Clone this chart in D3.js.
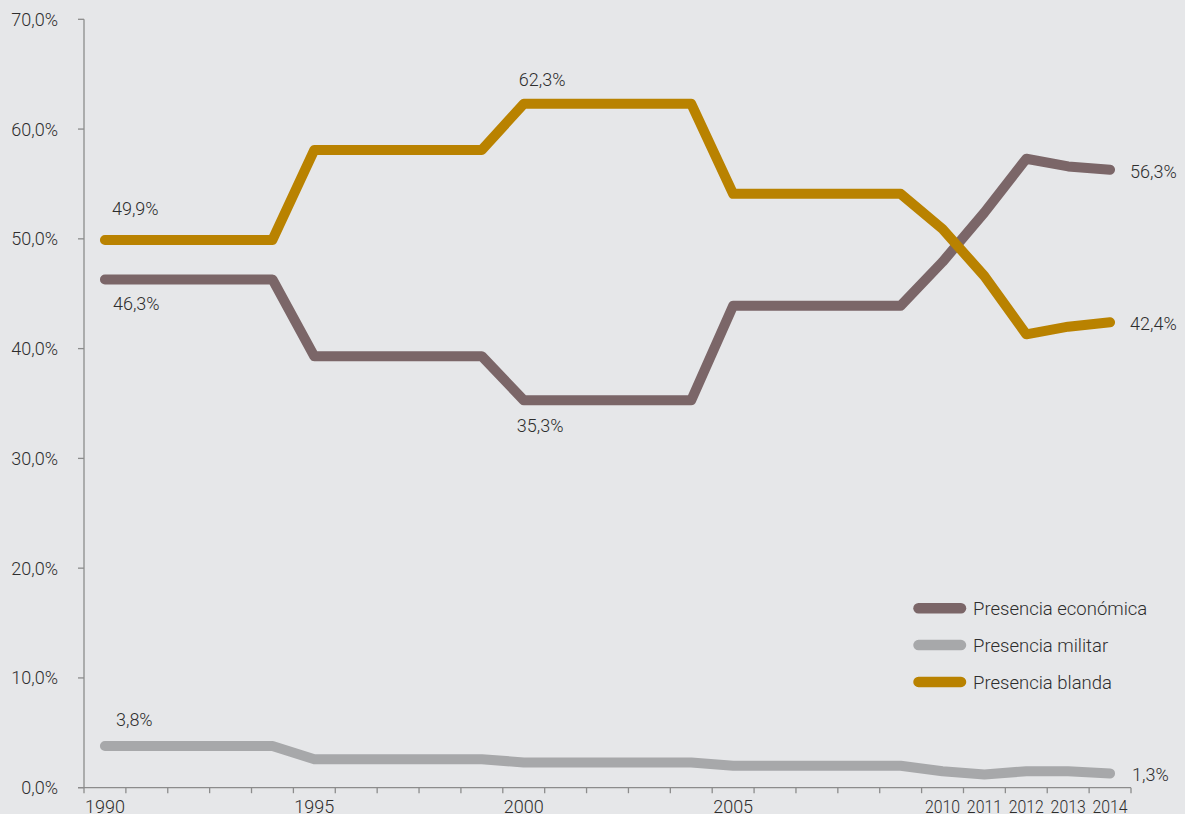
<!DOCTYPE html>
<html>
<head>
<meta charset="utf-8">
<script src="https://cdn.jsdelivr.net/npm/d3@7"></script>
<style>
  html, body { margin: 0; padding: 0; background: #e6e7e9; }
  svg { display: block; }
  text { font-family: Roboto, "Noto Sans", sans-serif; font-weight: 300; fill: #2e2e2e; }
</style>
</head>
<body>
<svg id="chart" width="1185" height="814"></svg>
<script>
// ---- data ----
const years = d3.range(1990, 2015);
const tickLabels = ["1990","","","","","1995","","","","","2000","","","","","2005","","","","","2010","2011","2012","2013","2014"];
const seriesNames = ["Presencia económica", "Presencia militar", "Presencia blanda"];
const economica = [46.3,46.3,46.3,46.3,46.3, 39.3,39.3,39.3,39.3,39.3, 35.3,35.3,35.3,35.3,35.3, 43.9,43.9,43.9,43.9,43.9, 47.9,52.4,57.3,56.6,56.3];
const militar   = [3.8,3.8,3.8,3.8,3.8, 2.6,2.6,2.6,2.6,2.6, 2.3,2.3,2.3,2.3,2.3, 2.0,2.0,2.0,2.0,2.0, 1.5,1.2,1.5,1.5,1.3];
const blanda    = [49.9,49.9,49.9,49.9,49.9, 58.1,58.1,58.1,58.1,58.1, 62.3,62.3,62.3,62.3,62.3, 54.1,54.1,54.1,54.1,54.1, 50.9,46.6,41.3,42.0,42.4];
const yTicks = [0,10,20,30,40,50,60,70];
// labelled points: [series index, year]
const labelPoints = [[2,1990],[0,1990],[2,2000],[0,2000],[1,1990],[0,2014],[2,2014],[1,2014]];

const colors = ["#7b6668", "#a7a8aa", "#b98200"];
const seriesValues = [economica, militar, blanda];

// ---- layout ----
(function () {
const svg = d3.select("#chart");
const mLeft = 84, mRight = 1131, mTop = 19.3, mBottom = 787.7;
const x = d3.scaleBand().domain(years).range([mLeft, mRight]).padding(0);
const y = d3.scaleLinear().domain([0, 70]).range([mBottom, mTop]);
const cx = yr => x(yr) + x.bandwidth() / 2;
const fmt = v => d3.format(".1f")(v).replace(".", ",") + "%";
const axisColor = "#8c8c8c";

// y axis
const yAxis = svg.append("g");
yAxis.append("line").attr("x1", mLeft).attr("x2", mLeft).attr("y1", y(70)).attr("y2", y(0))
  .attr("stroke", axisColor).attr("stroke-width", 1.3);
yAxis.selectAll("line.tk").data(yTicks).join("line").attr("class", "tk")
  .attr("x1", mLeft - 6).attr("x2", mLeft).attr("y1", d => y(d)).attr("y2", d => y(d))
  .attr("stroke", axisColor).attr("stroke-width", 1.3);
yAxis.selectAll("text").data(yTicks).join("text")
  .attr("x", 58).attr("y", d => y(d) + 6.5).attr("text-anchor", "end")
  .attr("font-size", 18).text(d => d3.format(".1f")(d).replace(".", ",") + "%");

// x axis
const xAxis = svg.append("g");
xAxis.append("line").attr("x1", mLeft - 6).attr("x2", mRight).attr("y1", mBottom).attr("y2", mBottom)
  .attr("stroke", axisColor).attr("stroke-width", 1.3);
const bounds = years.map(yr => x(yr)).concat([mRight]);
xAxis.selectAll("line.tk").data(bounds).join("line").attr("class", "tk")
  .attr("x1", d => d).attr("x2", d => d).attr("y1", mBottom).attr("y2", mBottom + 5.5)
  .attr("stroke", axisColor).attr("stroke-width", 1.3);
// labels crowded by a labelled neighbour are horizontally condensed
const crowded = i => (i > 0 && tickLabels[i - 1] !== "") || (i < tickLabels.length - 1 && tickLabels[i + 1] !== "");
xAxis.selectAll("text").data(years).join("text")
  .attr("x", 0).attr("y", 0).attr("text-anchor", "middle")
  .attr("transform", (d, i) => `translate(${cx(d)},812.5) scale(${crowded(i) ? 0.88 : 1},1)`)
  .attr("font-size", 18).text((d, i) => tickLabels[i]);

// lines
const line = d3.line().x((d, i) => cx(years[i])).y(d => y(d));
[1, 0, 2].forEach(s => {
  svg.append("path").datum(seriesValues[s]).attr("d", line)
    .attr("fill", "none").attr("stroke", colors[s]).attr("stroke-width", 10)
    .attr("stroke-linecap", "round").attr("stroke-linejoin", "round");
});

// data labels
const offsets = {
  "2-1990": [7, -25], "0-1990": [8, 31], "2-2000": [-5, -18], "0-2000": [-7, 32],
  "1-1990": [11, -20], "0-2014": [20, 8], "2-2014": [20, 8], "1-2014": [22, 8]
};
labelPoints.forEach(([s, yr]) => {
  const v = seriesValues[s][years.indexOf(yr)];
  const o = offsets[s + "-" + yr];
  svg.append("text").attr("x", cx(yr) + o[0]).attr("y", y(v) + o[1])
    .attr("font-size", 18).text(fmt(v));
});

// legend
const lg = svg.append("g");
seriesNames.forEach((n, i) => {
  const ly = 608.3 + i * 36.8;
  lg.append("line").attr("x1", 918.5).attr("x2", 961).attr("y1", ly).attr("y2", ly)
    .attr("stroke", colors[i]).attr("stroke-width", 10.5).attr("stroke-linecap", "round");
  lg.append("text").attr("x", 973).attr("y", ly + 6.7).attr("font-size", 18.5).text(n);
});
})();
</script>
</body>
</html>
